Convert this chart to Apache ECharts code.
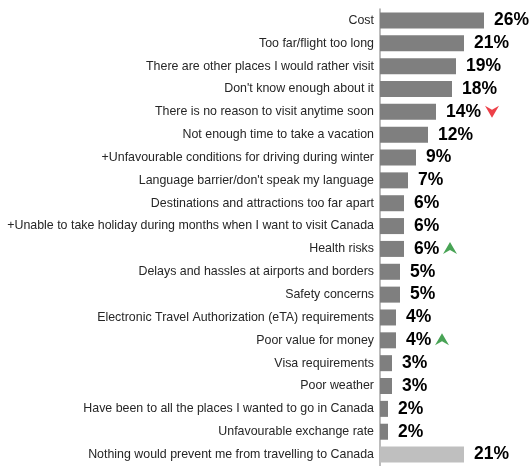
<!DOCTYPE html>
<html>
<head>
<meta charset="utf-8">
<script src="https://cdn.jsdelivr.net/npm/echarts@6/dist/echarts.min.js"></script>
<style>
  html, body { margin: 0; padding: 0; background: #fff; }
  #main { width: 530px; height: 466px; }
</style>
</head>
<body>
<div id="main"></div>
<script>
var categories = [
  'Cost',
  'Too far/flight too long',
  'There are other places I would rather visit',
  "Don't know enough about it",
  'There is no reason to visit anytime soon',
  'Not enough time to take a vacation',
  '+Unfavourable conditions for driving during winter',
  "Language barrier/don't speak my language",
  'Destinations and attractions too far apart',
  '+Unable to take holiday during months when I want to visit Canada',
  'Health risks',
  'Delays and hassles at airports and borders',
  'Safety concerns',
  'Electronic Travel Authorization (eTA) requirements',
  'Poor value for money',
  'Visa requirements',
  'Poor weather',
  'Have been to all the places I wanted to go in Canada',
  'Unfavourable exchange rate',
  'Nothing would prevent me from travelling to Canada'
];
var values = [26, 21, 19, 18, 14, 12, 9, 7, 6, 6, 6, 5, 5, 4, 4, 3, 3, 2, 2, 21];
// change markers: category index -> 'up' / 'down'
var changes = { 4: 'down', 10: 'up', 14: 'up' };

var chart = echarts.init(document.getElementById('main'));

var barData = values.map(function (v, i) {
  return {
    value: v,
    itemStyle: { color: i === values.length - 1 ? '#bfbfbf' : '#7f7f7f' }
  };
});

var upPath = 'path://M7,0 L14,12 L7,8 L0,12 Z';
var downPath = 'path://M0,0 L7,4 L14,0 L7,12 Z';
var arrowData = [];
Object.keys(changes).forEach(function (k) {
  var i = +k;
  var isUp = changes[k] === 'up';
  var txt = values[i] + '%';
  arrowData.push({
    value: [values[i], categories[i]],
    symbol: isUp ? upPath : downPath,
    symbolSize: [14, 12],
    symbolOffset: [txt.length === 3 ? 56 : 46, isUp ? -1 : 0],
    itemStyle: { color: isUp ? '#1a8c2b' : '#e8101a' }
  });
});

var option = {
  animation: false,
  backgroundColor: '#fff',
  grid: { left: 380, right: 10, top: 9, bottom: -1, containLabel: false },
  xAxis: {
    type: 'value',
    min: 0,
    max: 35,
    show: false
  },
  yAxis: {
    type: 'category',
    inverse: true,
    data: categories,
    axisLine: { show: true, lineStyle: { color: '#a6a6a6', width: 1.5 } },
    axisTick: { show: false },
    axisLabel: {
      margin: 6,
      fontFamily: 'Liberation Sans, Arial, sans-serif',
      fontSize: 12.4,
      color: '#262626'
    }
  },
  series: [
    {
      type: 'bar',
      data: barData,
      barWidth: 16,
      label: {
        show: true,
        position: 'right',
        distance: 10,
        formatter: '{c}%',
        fontFamily: 'Liberation Sans, Arial, sans-serif',
        fontWeight: 'bold',
        fontSize: 17.5,
        color: '#000'
      }
    },
    {
      type: 'scatter',
      data: arrowData,
      z: 5
    }
  ]
};

chart.setOption(option);
</script>
</body>
</html>
